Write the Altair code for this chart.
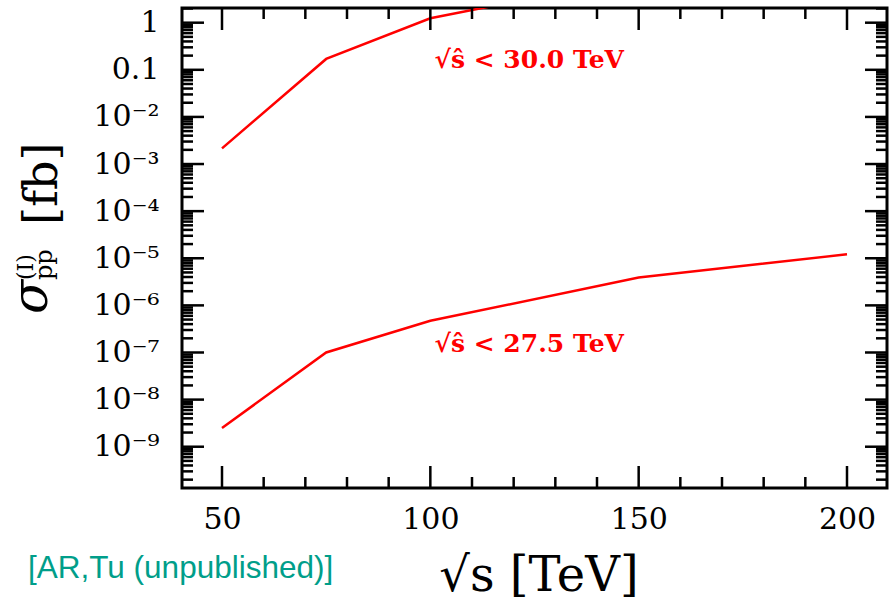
import altair as alt
import pandas as pd

# ---------------- data ----------------
energies_upper = [50, 75, 100, 125]
sigma_upper = [2.15e-3, 0.17, 1.24, 3.4]
energies_lower = [50, 75, 100, 150, 200]
sigma_lower = [2.5e-9, 1.0e-7, 4.7e-7, 3.9e-6, 1.21e-5]

cut_labels = ["√ŝ < 30.0 TeV", "√ŝ < 27.5 TeV"]
cut_label_x = [101, 101]
cut_label_y = [0.11, 1.0e-7]

x_major = [50, 100, 150, 200]
x_minor = [60, 70, 80, 90, 110, 120, 130, 140, 160, 170, 180, 190]
y_major = [1, 0.1, 1e-2, 1e-3, 1e-4, 1e-5, 1e-6, 1e-7, 1e-8, 1e-9]
y_major_labels = ["1", "0.1", "10⁻²", "10⁻³", "10⁻⁴", "10⁻⁵", "10⁻⁶", "10⁻⁷", "10⁻⁸", "10⁻⁹"]
y_minor_mult = [2, 3, 4, 5, 6, 7, 8, 9]
y_minor_exp = [0, -1, -2, -3, -4, -5, -6, -7, -8, -9, -10]

X_DOMAIN = [40.4, 209.6]
Y_DOMAIN = [1.33e-10, 2.05]
W, H = 705, 480

y_minor = [m * 10.0 ** e for e in y_minor_exp for m in y_minor_mult
           if Y_DOMAIN[0] <= m * 10.0 ** e <= Y_DOMAIN[1]]

xscale = alt.Scale(domain=X_DOMAIN, nice=False, zero=False)
yscale = alt.Scale(type="log", domain=Y_DOMAIN, nice=False)

lines = pd.DataFrame({
    "E": energies_upper + energies_lower,
    "sigma": sigma_upper + sigma_lower,
    "series": ["upper"] * len(energies_upper) + ["lower"] * len(energies_lower),
})

label_expr = "[" + ",".join(f"'{s}'" for s in y_major_labels) + "][round(-log(datum.value)/LN10)]"

base_line = alt.Chart(lines).mark_line(color="#ff0000", strokeWidth=2.5, clip=True).encode(
    x=alt.X("E:Q", scale=xscale,
            axis=alt.Axis(orient="bottom", values=x_major, title=None, domain=False, ticks=False,
                          grid=False, labelFont="DejaVu Serif", labelFontSize=30,
                          labelColor="black", labelPadding=16, labelFlush=False, format="d")),
    y=alt.Y("sigma:Q", scale=yscale,
            axis=alt.Axis(orient="left", values=y_major, title=None, domain=False, ticks=False,
                          grid=False, labelFont="DejaVu Serif", labelFontSize=30,
                          labelColor="black", labelPadding=23, labelExpr=label_expr,
                          labelOverlap=False)),
    detail="series:N",
)

TICK_MAJOR, TICK_MINOR, TW = 22, 11, 2.5


def xticks(vals, size):
    df = pd.DataFrame({"v": vals})
    b = alt.Chart(df).mark_rule(color="black", strokeWidth=TW)
    enc = dict(x=alt.X("v:Q", scale=xscale, axis=None))
    bottom = b.encode(y=alt.value(H - size), y2=alt.value(H), **enc)
    top = b.encode(y=alt.value(0), y2=alt.value(size), **enc)
    return [bottom, top]


def yticks(vals, size):
    df = pd.DataFrame({"v": vals})
    b = alt.Chart(df).mark_rule(color="black", strokeWidth=TW)
    enc = dict(y=alt.Y("v:Q", scale=yscale, axis=None))
    left = b.encode(x=alt.value(0), x2=alt.value(size), **enc)
    right = b.encode(x=alt.value(W - size), x2=alt.value(W), **enc)
    return [left, right]


ticks = xticks(x_major, TICK_MAJOR) + xticks(x_minor, TICK_MINOR) + \
    yticks(y_major, TICK_MAJOR) + yticks(y_minor, TICK_MINOR)

ann = pd.DataFrame({"E": cut_label_x, "sigma": cut_label_y, "label": cut_labels})
cut_text = alt.Chart(ann).mark_text(
    font="DejaVu Serif", fontWeight="bold", fontSize=25, color="#ff0000",
    align="left", baseline="alphabetic").encode(
    x=alt.X("E:Q", scale=xscale, axis=None),
    y=alt.Y("sigma:Q", scale=yscale, axis=None),
    text="label:N",
)


def txt(s, x, y, size, font="DejaVu Serif", color="black", angle=0, style="normal",
        align="left", baseline="alphabetic"):
    return alt.Chart(pd.DataFrame({"t": [s]})).mark_text(
        font=font, fontSize=size, color=color, angle=angle, fontStyle=style,
        align=align, baseline=baseline).encode(
        x=alt.value(x), y=alt.value(y), text="t:N")


texts = [
    # y-axis title pieces (rotated)
    txt("σ", -135, 306, 50, angle=270, style="italic"),
    txt("(I)", -149, 272, 22, angle=270),
    txt("pp", -130, 272, 24, angle=270),
    txt("[fb]", -125, 217, 46, angle=270),
    # x-axis title
    txt("√s [TeV]", 357, 583, 48, align="center"),
    # credit
    txt("[AR,Tu (unpublished)]", -154, 570, 31.5, font="Liberation Sans", color="#009e8a"),
]

chart = alt.layer(base_line, *ticks, cut_text, *texts).resolve_scale(
    x="shared", y="shared"
).resolve_axis(
    x="independent", y="independent"
).properties(
    width=W, height=H,
    padding={"left": 182, "top": 8, "right": 3, "bottom": 116},
    autosize=alt.AutoSizeParams(type="none"),
).configure_view(stroke="black", strokeWidth=3)

chart.save("out.html", embed_options={"renderer": "svg", "actions": False})
